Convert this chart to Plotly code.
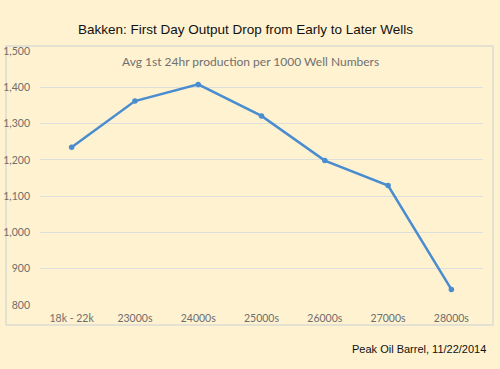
import plotly.graph_objects as go

categories = ["18k - 22k", "23000s", "24000s", "25000s", "26000s", "27000s", "28000s"]
production = [1235, 1362, 1408, 1321, 1198, 1129, 843]
y_ticks = [800, 900, 1000, 1100, 1200, 1300, 1400, 1500]
y_tick_labels = ["800", "900", "1,000", "1,100", "1,200", "1,300", "1,400", "1,500"]

W, H = 500, 369
L, R, T, B = 40, 17, 51, 64
pw, ph = W - L - R, H - T - B

def px_to_paper_x(px):
    return (px - L) / pw

def px_to_paper_y(py):
    return (H - B - py) / ph

bg = "#FEF2D0"
tick_font = dict(family="Lato, Open Sans, sans-serif", size=10.5, color="#6E6E6E")

fig = go.Figure()
fig.add_trace(go.Scatter(
    x=categories, y=production, mode="lines+markers",
    line=dict(color="#4A8CD0", width=2.5),
    marker=dict(color="#4A8CD0", size=5.5),
    showlegend=False, cliponaxis=False,
))

fig.update_layout(
    width=W, height=H,
    margin=dict(l=L, r=R, t=T, b=B, autoexpand=False),
    paper_bgcolor=bg, plot_bgcolor=bg,
    xaxis=dict(
        type="category", range=[-0.5, 6.5], automargin=False,
        showgrid=False, zeroline=False, showline=False,
        tickfont=tick_font, ticks="", ticklabelstandoff=5,
    ),
    yaxis=dict(
        range=[800, 1500], tickvals=y_ticks, ticktext=y_tick_labels, automargin=False,
        showgrid=True, gridcolor="#DCDFDC", gridwidth=1, zeroline=False, showline=False,
        tickfont=tick_font, ticks="", ticklabelstandoff=9,
    ),
    shapes=[dict(
        type="rect", xref="paper", yref="paper",
        x0=px_to_paper_x(6), x1=px_to_paper_x(493),
        y0=px_to_paper_y(325), y1=px_to_paper_y(46),
        line=dict(color="#DCDCD4", width=1.5), fillcolor="rgba(0,0,0,0)", layer="below",
    )],
    annotations=[
        dict(text="Bakken: First Day Output Drop from Early to Later Wells",
             xref="paper", yref="paper", x=px_to_paper_x(245), y=px_to_paper_y(30),
             xanchor="center", yanchor="middle", showarrow=False,
             font=dict(family="Liberation Sans, Arial, sans-serif", size=13.5, color="#111111")),
        dict(text="Avg 1st 24hr production per 1000 Well Numbers",
             xref="paper", yref="paper", x=px_to_paper_x(250), y=px_to_paper_y(61),
             xanchor="center", yanchor="middle", showarrow=False,
             font=dict(family="Lato, Open Sans, sans-serif", size=12, color="#707070")),
        dict(text="Peak Oil Barrel, 11/22/2014",
             xref="paper", yref="paper", x=px_to_paper_x(488), y=px_to_paper_y(349),
             xanchor="right", yanchor="middle", showarrow=False,
             font=dict(family="Liberation Sans, Arial, sans-serif", size=11, color="#111111")),
    ],
)

fig.write_html(
    "out.html",
    config={"displayModeBar": False},
    post_script="document.body.style.margin='0';document.body.style.background='%s';" % bg,
)
